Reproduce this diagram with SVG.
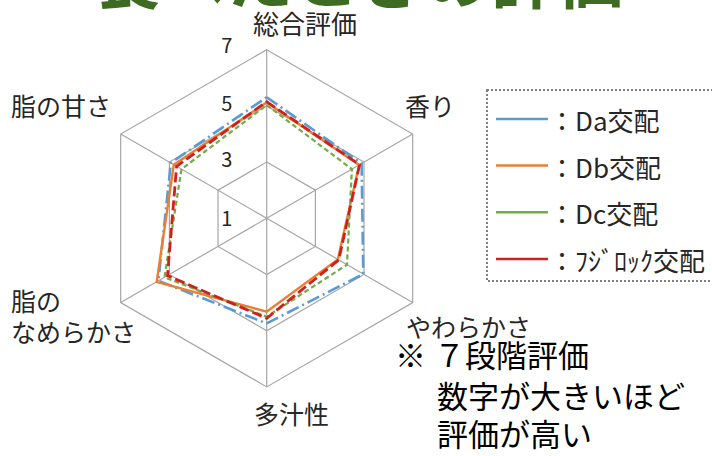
<svg xmlns="http://www.w3.org/2000/svg" width="712" height="456" viewBox="0 0 712 456">
<style>
text{font-family:"Noto Sans CJK JP","Noto Sans",sans-serif;fill:#262626}
.ax{font-size:25px}
.tk{font-size:20px;text-anchor:middle}
.lg{font-size:26px}
.nt{font-size:31px;fill:#000}
.grid{fill:none;stroke:#a6a6a6;stroke-width:1.2}
.s{fill:none;stroke-linejoin:miter}
.da{stroke:#5b9bd5;stroke-width:2.6;stroke-dasharray:13 4 2 4}
.db{stroke:#ed7d31;stroke-width:2.4}
.dc{stroke:#70ad47;stroke-width:2.2;stroke-dasharray:5 3}
.fj{stroke:#d0201e;stroke-width:2.8;stroke-dasharray:10 4}
</style>
<rect width="712" height="456" fill="#fff"/>
<text id="title" x="95" y="3" style="font-size:66px;font-weight:bold;fill:#3e6b22">食べたときの評価</text>
<g id="grid">
<polygon class="grid" points="266.7,49.7 412.7,134 412.7,302.6 266.7,386.9 120.7,302.6 120.7,134"/>
<polygon class="grid" points="266.7,105.9 364,162.1 364,274.5 266.7,330.7 169.4,274.5 169.4,162.1"/>
<polygon class="grid" points="266.7,162.1 315.4,190.2 315.4,246.4 266.7,274.5 218,246.4 218,190.2"/>
<path class="grid" d="M266.7,218.3L266.7,49.7M266.7,218.3L412.7,134M266.7,218.3L412.7,302.6M266.7,218.3L266.7,386.9M266.7,218.3L120.7,302.6M266.7,218.3L120.7,134"/>
</g>
<g id="ticks">
<text class="tk" x="226.7" y="53">7</text>
<text class="tk" x="226.7" y="110.6">5</text>
<text class="tk" x="226.7" y="167.3">3</text>
<text class="tk" x="226.7" y="225.6">1</text>
</g>
<g id="axis-labels">
<text class="ax" x="253" y="33.5" style="font-size:26px">総合評価</text>
<text class="ax" x="405" y="115.5">香り</text>
<text class="ax" x="11" y="116">脂の甘さ</text>
<text class="ax" x="11" y="310.5">脂の</text>
<text class="ax" x="11" y="341.5">なめらかさ</text>
<text class="ax" x="406" y="336.5">やわらかさ</text>
<text class="ax" x="254" y="423.5">多汁性</text>
</g>
<g id="series">
<polygon id="Da" class="s da" points="266.7,97.2 361.6,163.5 363.3,274.1 266.7,323.4 158.4,280.8 170.8,162.9"/>
<polygon id="Db" class="s db" points="266.7,102.5 359.2,164.9 337.8,259.4 266.7,311.6 156.7,281.8 173.8,164.7"/>
<polygon id="Dc" class="s dc" points="266.7,105.1 351.9,169.1 347,264.7 266.7,316.7 164.5,277.3 181.5,169.1"/>
<polygon id="Fuji" class="s fj" points="266.7,101.7 359.6,164.7 338.8,259.9 266.7,318.3 167.5,275.6 176.6,166.3"/>
</g>
<g id="legend">
<rect x="487" y="90" width="228" height="191" fill="none" stroke="#7f7f7f" stroke-width="2" stroke-dasharray="2 2"/>
<line x1="496" y1="119" x2="548" y2="119" stroke="#5b9bd5" stroke-width="2.5"/>
<line x1="496" y1="165.5" x2="548" y2="165.5" stroke="#ed7d31" stroke-width="2.5"/>
<line x1="496" y1="212.3" x2="548" y2="212.3" stroke="#70ad47" stroke-width="2.5"/>
<line x1="496" y1="259" x2="548" y2="259" stroke="#d0201e" stroke-width="2.5"/>
<text class="lg" x="549" y="131">：Da交配</text>
<text class="lg" x="549" y="177.5">：Db交配</text>
<text class="lg" x="549" y="224">：Dc交配</text>
<text class="lg" x="549" y="271">：ﾌｼﾞﾛｯｸ交配</text>
</g>
<g id="note">
<text class="nt" x="395" y="366.8">※</text>
<text class="nt" x="434" y="366.8">７段階評価</text>
<text class="nt" x="437" y="407.8">数字が大きいほど</text>
<text class="nt" x="437" y="446">評価が高い</text>
</g>
</svg>
